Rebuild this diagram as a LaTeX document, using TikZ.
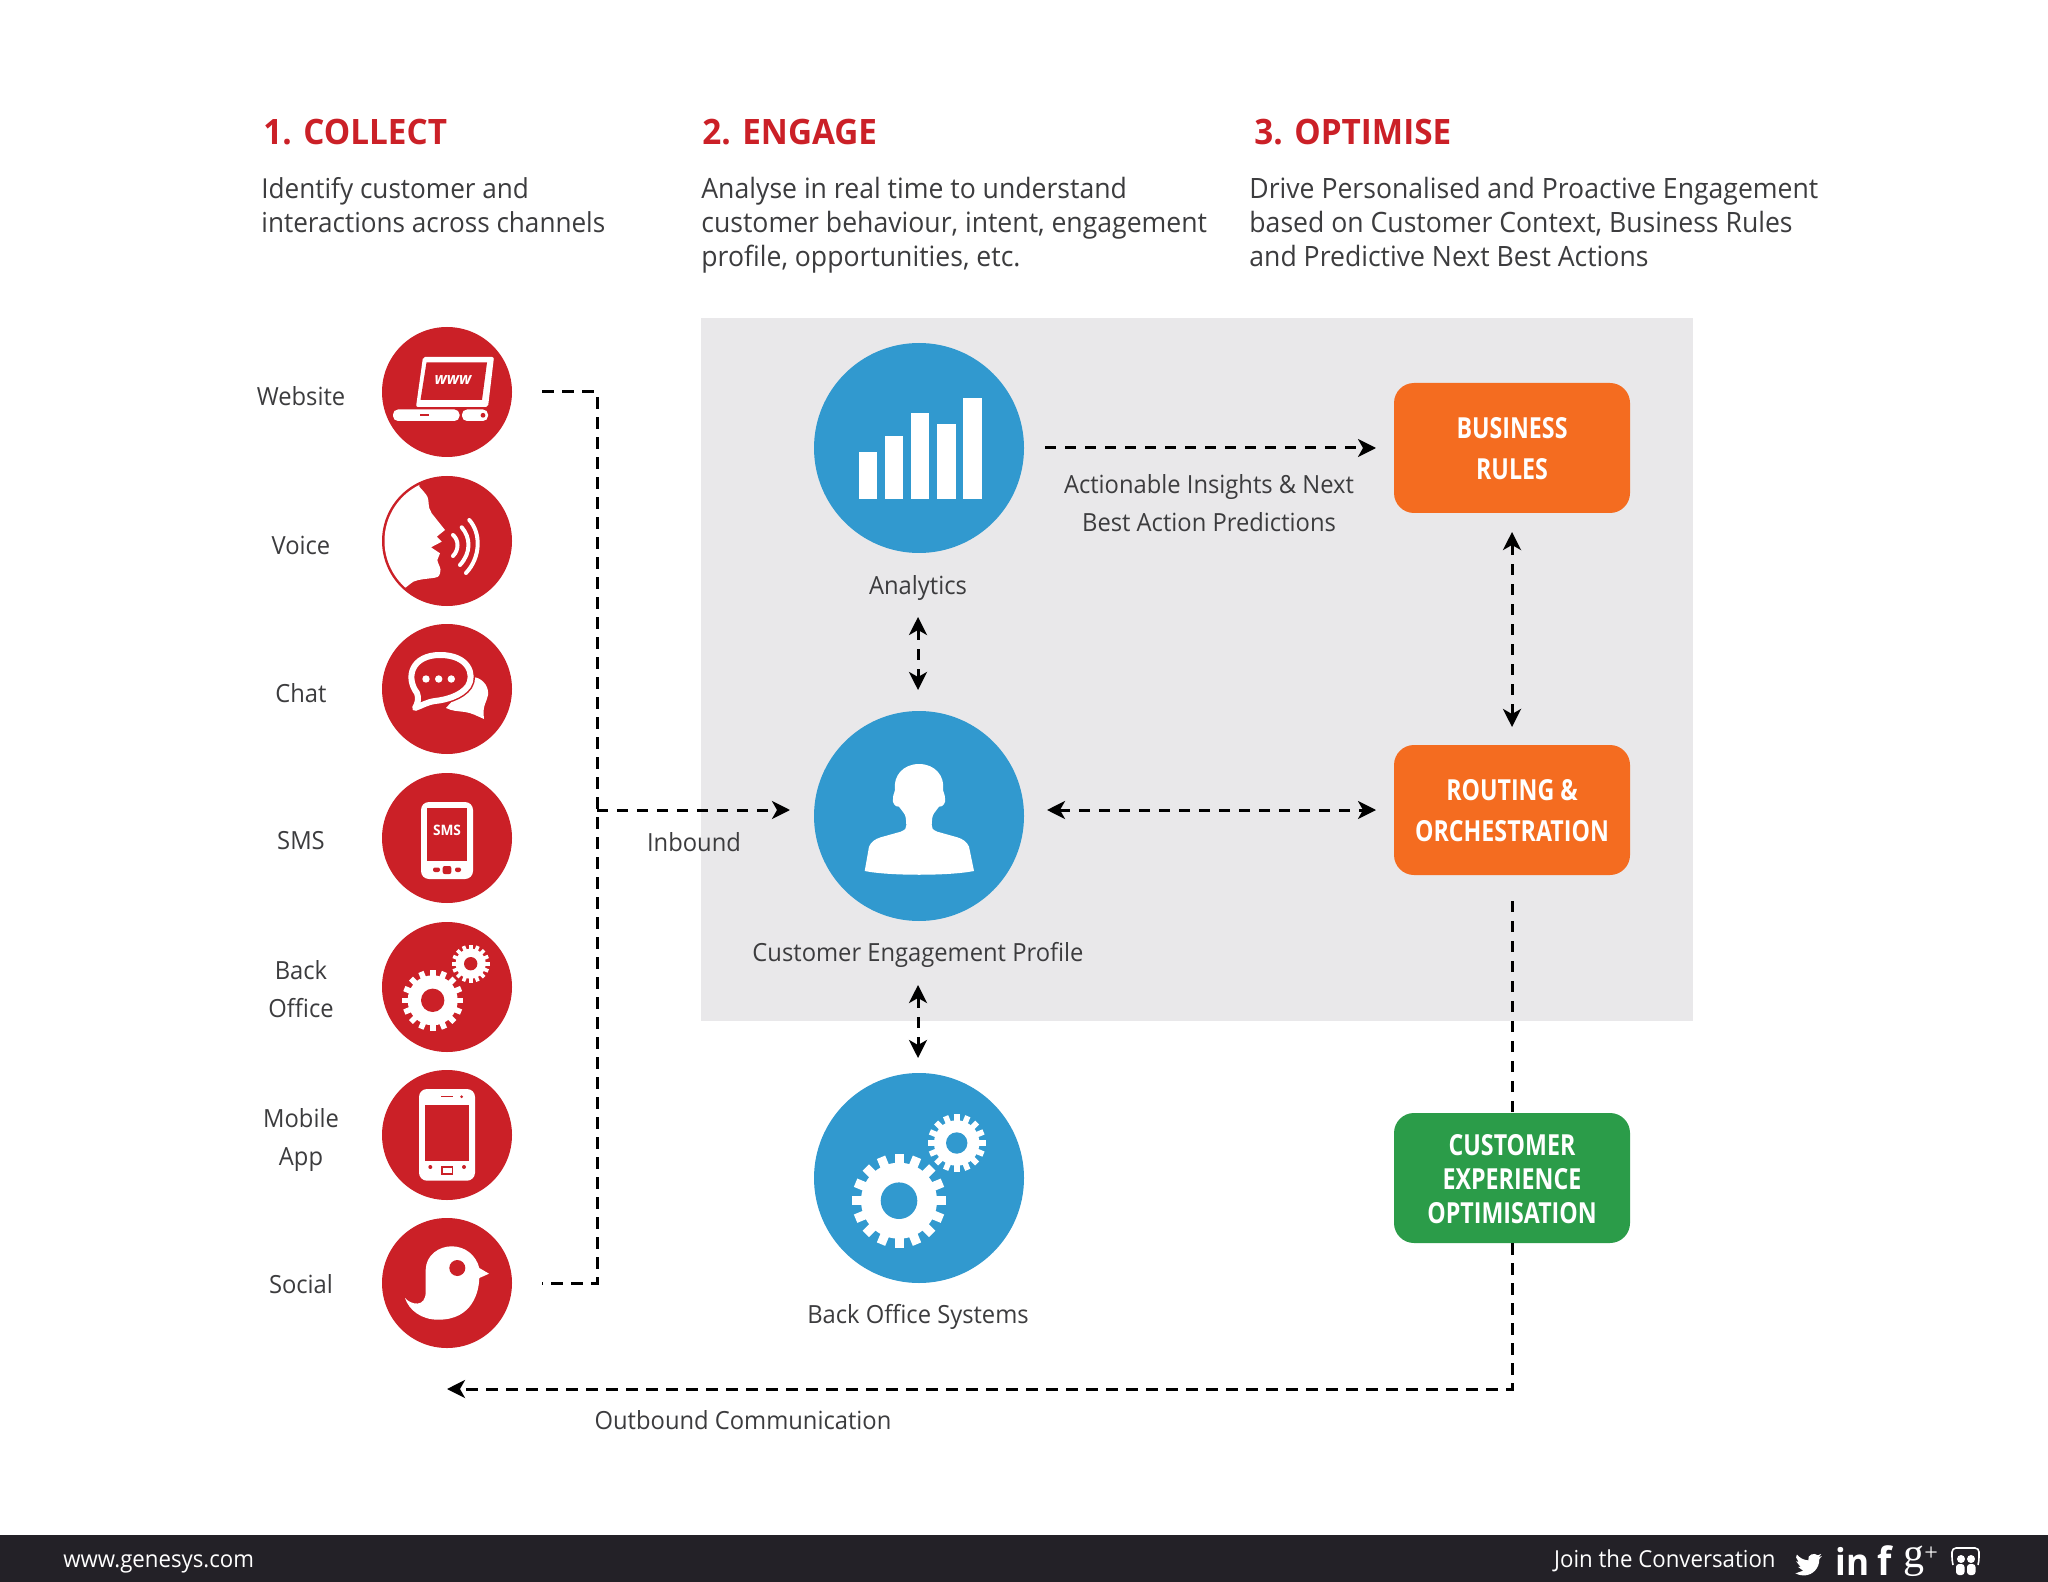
\documentclass[tikz,border=0pt]{standalone}
\usepackage{fontspec}
\usetikzlibrary{arrows.meta,calc}
\setmainfont[FakeStretch=0.95]{Open Sans}
\newfontfamily\boxfont[FakeStretch=0.8]{Open Sans}
\newfontfamily\serifg{Liberation Serif}
\definecolor{cred}{HTML}{CB2027}
\definecolor{cblue}{HTML}{3199CF}
\definecolor{corange}{HTML}{F46C20}
\definecolor{cgreen}{HTML}{2B9C49}
\definecolor{cgray}{HTML}{E9E8EA}
\definecolor{cfoot}{HTML}{232127}
\definecolor{ctext}{HTML}{3C3C3E}
\newcommand{\toprule}{\rule{0pt}{11.6pt}}
\tikzset{
  redcirc/.style={circle,fill=cred,minimum size=65pt,inner sep=0pt},
  bluecirc/.style={circle,fill=cblue,minimum size=105pt,inner sep=0pt},
  boxbase/.style={rectangle,rounded corners=10pt,minimum width=118pt,minimum height=65pt,inner sep=0pt,text=white,align=center},
  orangebox/.style={boxbase,fill=corange,font=\boxfont\bfseries\fontsize{14.5}{20.5}\selectfont},
  greenbox/.style={boxbase,fill=cgreen,font=\boxfont\bfseries\fontsize{14.5}{16.8}\selectfont},
  head/.style={anchor=base west,inner sep=0pt,text=cred,font=\bfseries\fontsize{17.5}{20}\selectfont},
  bodytxt/.style={anchor=north west,inner sep=0pt,text=ctext,align=left,font=\fontsize{13.75}{17}\selectfont},
  bodywide/.style={bodytxt,font=\fontsize{14}{17}\selectfont},
  lab/.style={inner sep=0pt,text=ctext,align=center,font=\fontsize{12.5}{19}\selectfont},
  foot/.style={inner sep=0pt,text=white,font=\fontsize{11.7}{14}\selectfont},
  conn/.style={draw=black,line width=1.5pt,dash pattern=on 5.7pt off 4.3pt},
  tip/.style={-{Stealth[length=9pt,width=9pt,inset=2.5pt]}},
  tips/.style={{Stealth[length=9pt,width=9pt,inset=2.5pt]}-{Stealth[length=9pt,width=9pt,inset=2.5pt]}},
  wave/.style={draw=white,line width=2pt,line cap=round},
}
\newcommand{\mygear}[7]{%
  \begin{scope}[shift={(#1,#2)}]
    \fill[white] (0,0) circle (#4);
    \foreach \a in {0,22.5,...,337.5}{\fill[white,rotate=\a] (-#6/2,0) rectangle (#6/2,#3);}
    \fill[#7] (0,0) circle (#5);
  \end{scope}}
\begin{document}
\begin{tikzpicture}[x=0.5pt,y=-0.5pt]
\useasboundingbox (0,0) rectangle (2048,1582);
\fill[white] (0,0) rectangle (2048,1582);
\fill[cgray] (701,318) rectangle (1693,1021);
\fill[cfoot] (0,1535) rectangle (2048,1582);

% headings
\node[head] (h1) at (263,145) {1. COLLECT};
\node[head] (h2) at (702,145) {2. ENGAGE};
\node[head] (h3) at (1254,145) {3. OPTIMISE};
\node[bodytxt] (t1) at (261,177) {Identify customer and\\interactions across channels};
\node[bodywide] (t2) at (701,177) {Analyse in real time to understand\\customer behaviour, intent, engagement\\profile, opportunities, etc.};
\node[bodywide] (t3) at (1249,177) {Drive Personalised and Proactive Engagement\\based on Customer Context, Business Rules\\and Predictive Next Best Actions};

% channel circles
\node[redcirc] (website) at (447,392) {};
\node[redcirc] (voice) at (447,541) {};
\node[redcirc] (chat) at (447,689) {};
\node[redcirc] (sms) at (447,838) {};
\node[redcirc] (backoff) at (447,987) {};
\node[redcirc] (mobile) at (447,1135) {};
\node[redcirc] (social) at (447,1283) {};
\node[lab] (lw) at (301,396) {Website};
\node[lab] (lv) at (301,545) {Voice};
\node[lab] (lc) at (301,693) {Chat};
\node[lab] (ls) at (301,841) {SMS};
\node[lab] (lb) at (301,989) {Back\\Office};
\node[lab] (lm) at (301,1140) {Mobile\\App};
\node[lab] (lso) at (301,1284) {Social};

% website icon
\begin{scope}[shift={(website.center)}]
  \fill[white,rounded corners=1pt] (-24,-35) -- (47,-35) -- (41,15) -- (-31,15) -- cycle;
  \fill[cred] (-20.5,-29.5) -- (40,-29.5) -- (35,8) -- (-26.5,8) -- cycle;
  \node[inner sep=0pt,text=white,font=\bfseries\itshape\fontsize{8.2}{9}\selectfont] (wwwtxt) at (6,-12) {www};
  \fill[white,rounded corners=2.5pt] (-54,17.5) rectangle (12.5,29);
  \fill[white,rounded corners=2.5pt] (15,17.5) rectangle (41,29);
  \fill[cred] (-27,22.5) rectangle (-18,24.5);
  \fill[cred] (36,23.3) circle (2.4);
\end{scope}

% voice icon
\begin{scope}[shift={(voice.center)}]
  \begin{scope}
    \clip (0,0) circle (62.5);
    \fill[white] (-27.7,-62) -- (-27.7,-54.3) .. controls (-22,-48) and (-19,-45) .. (-18.7,-41)
      .. controls (-18,-34) and (-18,-31) .. (-15.3,-27.7) -- (-2,-11) -- (-10.3,-4.3) -- (-5.3,0.7)
      -- (-16,6.3) -- (-7,12.3) -- (-9.7,19) .. controls (-9,24) and (-5,27) .. (-7,32.3)
      .. controls (-8,36) and (-10,36.5) .. (-12,36.7) .. controls (-20,38) and (-28,38) .. (-33.7,40.7)
      .. controls (-36,42) and (-38,44) .. (-40.3,45.7) -- (-70,70) -- (-70,-62) -- cycle;
  \end{scope}
  \draw[wave] (6,-6) .. controls (12,-1) and (12,9) .. (6,15);
  \draw[wave] (14.7,-13.7) .. controls (24,-3) and (24,12) .. (13,24);
  \draw[wave] (22.3,-21) .. controls (34,-8) and (34,16) .. (19,32);
\end{scope}

% chat icon
\begin{scope}[shift={(chat.center)}]
  \fill[white] (27,-12) .. controls (38,-10) and (42,0) .. (41,6) .. controls (40,13) and (35,16) .. (37,30)
     .. controls (30,27) and (25,24) .. (18,23) .. controls (10,22) and (5,22) .. (-1,19) -- cycle;
  \draw[cred,line width=4.5pt,fill=cred,line join=round] (-30,4) .. controls (-42,-12) and (-35,-34) .. (-7,-34)
     .. controls (22,-34) and (28,-14) .. (21,-3) .. controls (14,7) and (-2,11) .. (-12,12)
     .. controls (-20,13) and (-26,17) .. (-32,19) .. controls (-29,14) and (-28,9) .. (-30,4) -- cycle;
  \draw[white,line width=3pt,fill=cred,line join=round] (-30,4) .. controls (-42,-12) and (-35,-34) .. (-7,-34)
     .. controls (22,-34) and (28,-14) .. (21,-3) .. controls (14,7) and (-2,11) .. (-12,12)
     .. controls (-20,13) and (-26,17) .. (-32,19) .. controls (-29,14) and (-28,9) .. (-30,4) -- cycle;
  \fill[white] (-21,-10) circle (3.7) (-8.3,-10) circle (3.7) (4.3,-10) circle (3.7);
\end{scope}

% sms icon
\begin{scope}[shift={(sms.center)}]
  \fill[white,rounded corners=4pt] (-26,-36) rectangle (26,41);
  \fill[cred] (-20,-30) rectangle (20,23);
  \node[inner sep=0pt,text=white,font=\bfseries\fontsize{7.2}{8}\selectfont] (smstxt) at (0,-8) {SMS};
  \fill[cred,rounded corners=1pt] (-4.3,28) rectangle (4.3,36);
  \fill[cred,rounded corners=1pt] (-14,29.5) rectangle (-7,34);
  \fill[cred,rounded corners=1pt] (8,29.5) rectangle (14,34);
\end{scope}

% back office icon
\begin{scope}[shift={(backoff.center)}]
  \mygear{-14.3}{13.3}{30.7}{25}{11.7}{5.6}{cred}
  \mygear{23.7}{-23.3}{19}{15}{6.7}{3.6}{cred}
\end{scope}

% mobile icon
\begin{scope}[shift={(mobile.center)}]
  \fill[white,rounded corners=4pt] (-28,-46) rectangle (28,45.7);
  \fill[cred] (-22,-30) rectangle (22.3,25.7);
  \fill[cred] (-6,-39) rectangle (5.7,-37.6);
  \fill[cred] (14.7,-38.3) circle (1.5);
  \fill[cred] (-16.7,32) circle (2) (17,32) circle (2);
  \draw[cred,line width=0.8pt] (-5.3,31.7) rectangle (5.3,39);
\end{scope}

% social icon
\begin{scope}[shift={(social.center)}]
  \fill[white] (-42,15) .. controls (-36,22) and (-21,25) .. (-21.3,8.3) -- (-21.3,-13.3)
    .. controls (-21,-28) and (-8,-36.7) .. (4.7,-36.7) .. controls (18,-36.7) and (29,-28) .. (32.3,-15)
    -- (42,-9.3) -- (32.3,-5) .. controls (32,8) and (26,36.7) .. (-8.7,36.7)
    .. controls (-26,36.7) and (-38,27) .. (-42,15) -- cycle;
  \fill[cred] (10.3,-15) circle (8);
\end{scope}

% blue circles
\node[bluecirc] (analytics) at (919,448) {};
\node[bluecirc] (profile) at (919,816) {};
\node[bluecirc] (bosys) at (919,1178) {};
\begin{scope}[shift={(analytics.center)}]
  \fill[white] (-60.3,50.7) rectangle (-41.7,4);
  \fill[white] (-34.3,50.7) rectangle (-15.7,-12.3);
  \fill[white] (-8.3,50.7) rectangle (10.3,-35);
  \fill[white] (17.7,50.7) rectangle (36.7,-24);
  \fill[white] (44,50.7) rectangle (62.7,-50);
\end{scope}
\begin{scope}[shift={(profile.center)}]
  \fill[white] (-54.3,55) -- (-50,30.7) .. controls (-48,26) and (-44,23) .. (-38.3,21.3)
    -- (-18.3,15.7) .. controls (-14,14) and (-12,12) .. (-12.7,9) .. controls (-13,4) and (-13,0) .. (-15,-2.7)
    -- (-20,-9.3) .. controls (-24,-9) and (-27,-13) .. (-26,-17.7) .. controls (-26,-22) and (-24,-24) .. (-24,-26)
    .. controls (-26,-40) and (-16,-52) .. (0,-52) .. controls (16,-52) and (26,-40) .. (24,-26)
    .. controls (24,-24) and (26,-22) .. (26,-17.7) .. controls (27,-13) and (24,-9) .. (20,-9.3)
    -- (15,-2.7) .. controls (13,0) and (13,4) .. (12.7,9) .. controls (12,12) and (14,14) .. (18.3,15.7)
    -- (38.3,21.3) .. controls (44,23) and (48,26) .. (50,30.7) -- (55,55)
    .. controls (30,60) and (-30,60) .. (-54.3,55) -- cycle;
\end{scope}
\begin{scope}[shift={(bosys.center)}]
  \mygear{-20}{22.7}{47}{38}{18.3}{9}{cblue}
  \mygear{37.7}{-35}{29}{22.7}{10.7}{5.6}{cblue}
\end{scope}
\node[lab] (la) at (918,588) {Analytics};
\node[lab] (lp) at (918,955) {Customer Engagement Profile};
\node[lab] (lbo) at (918,1317) {Back Office Systems};
\node[lab] (lins) at (1209,503.5) {Actionable Insights \& Next\\Best Action Predictions};
\node[lab] (lin) at (694,842) {Inbound};
\node[lab] (lout) at (743,1420) {Outbound Communication};

% boxes
\node[orangebox] (rules) at (1512,448) {\toprule BUSINESS\\RULES};
\node[orangebox] (routing) at (1512,810) {\toprule ROUTING \&\\ORCHESTRATION};
\node[greenbox] (cxo) at (1512,1178) {\toprule CUSTOMER\\EXPERIENCE\\OPTIMISATION};

% connector ends
\coordinate (w0) at ($(website.east)+(30,0)$);
\coordinate (so0) at ($(social.east)+(30,0)$);
\coordinate (trunkt) at (597,392);
\coordinate (trunkb) at (597,1283);
\coordinate (inb0) at (597,810);
\coordinate (inb1) at (790,810);
\coordinate (an1) at (1045,448);
\coordinate (ru0) at (1376,448);
\coordinate (ru1) at (1512,532);
\coordinate (ro1) at (1512,727);
\coordinate (ax0) at (918,617);
\coordinate (px0) at (918,690);
\coordinate (px1) at (918,985);
\coordinate (bx0) at (918,1058);
\coordinate (pr0) at (1047,810);
\coordinate (ro0) at (1376,810);
\coordinate (ro2) at (1512,901);
\coordinate (ocor) at (1512,1389);
\coordinate (oend) at (447,1389);

% connectors
\draw[conn] (w0) -- (trunkt) -- (trunkb) -- (so0);
\draw[conn,tip] (inb0) -- (inb1);
\draw[conn,tip] (an1) -- (ru0);
\draw[conn,tips] (ru1) -- (ro1);
\draw[conn,tips] (ax0) -- (px0);
\draw[conn,tips] (pr0) -- (ro0);
\draw[conn,tips] (px1) -- (bx0);
\draw[conn] (ro2) -- (cxo.north);
\draw[conn,tip] (cxo.south) -- (ocor) -- (oend);

% footer
\node[foot,anchor=base west] (fw) at (63,1567.5) {www.genesys.com};
\node[foot,anchor=base east] (fj) at (1776,1567.5) {Join the Conversation};
\begin{scope}[shift={(1795,1551)},scale=1.125]
  \fill[white] (23.95,4.57) -- (21.13,5.35) -- (23.29,2.62) -- (20.16,3.81)
    .. controls (17.6,1.1) and (10.6,3) .. (11.78,8.29)
    .. controls (7.69,8.1) and (4.07,6.13) .. (1.64,3.16)
    -- (0.97,5.64) -- (3.16,9.73) -- (0.93,9.12) -- (4.88,14) -- (2.67,14.09) -- (7.27,17.5)
    -- (1.17,19.61) -- (0,19.54) .. controls (2,21) and (5,21.75) .. (7.56,21.75)
    .. controls (16.6,21.75) and (21.56,14.25) .. (21.56,7.77) -- (21.54,7.14) -- cycle;
\end{scope}
\node[inner sep=0pt,anchor=base west,text=white,font=\bfseries\fontsize{18.5}{22}\selectfont] (fin) at (1835,1575) {in};
\node[inner sep=0pt,anchor=base west,text=white,font=\bfseries\fontsize{19.5}{22}\selectfont] (ff) at (1877,1575) {f};
\node[inner sep=0pt,anchor=base west,text=white,font=\serifg\fontsize{21}{24}\selectfont] (fg) at (1903,1567) {g};
\node[inner sep=0pt,anchor=base west,text=white,font=\serifg\fontsize{12}{14}\selectfont] (fp) at (1924,1560) {+};
\draw[white,line width=0.8pt,rounded corners=2pt] (1953,1565) -- (1952,1561) -- (1952,1548) -- (1979,1548) -- (1979,1561) -- (1978,1565);
\fill[white] (1961,1559) circle (4) (1971,1559) circle (4);
\fill[white,rounded corners=1.5pt] (1956,1564) rectangle (1964.5,1575);
\fill[white,rounded corners=1.5pt] (1967,1564) rectangle (1975.5,1575);
\end{tikzpicture}
\end{document}
